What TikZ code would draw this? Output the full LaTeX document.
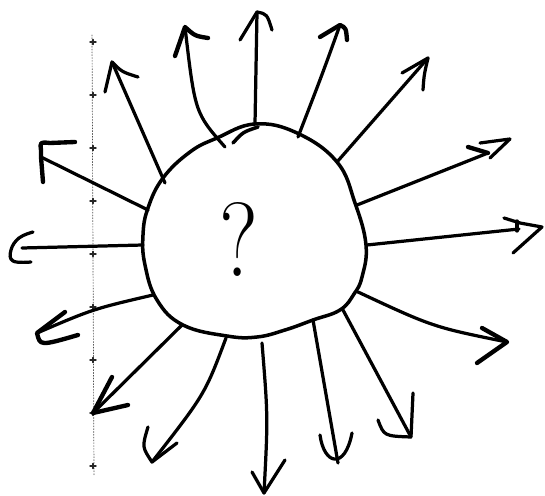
\documentclass[tikz,border=0pt]{standalone}
\usetikzlibrary{calc}

\begin{document}
\begin{tikzpicture}[
    x=0.5mm, y=-0.5mm,
    line cap=round, line join=round,
    blob/.style={draw=black, line width=5pt},
    ray/.style={draw=black, line width=4.6pt},
    barb/.style={draw=black, line width=4.6pt},
    heavybarb/.style={barb, line width=6.2pt},
    guide/.style={draw=black!70, line width=1pt, dash pattern=on 1.5pt off 2.5pt},
    tick/.style={draw=black!85, line width=2pt},
    query/.style={inner sep=0pt, font=\fontsize{150}{150}\selectfont}
]
\useasboundingbox (0,0) rectangle (545,496);

%% Dotted guide line on the left, with its ticks
\draw[guide] (92,35) -- (94,475);
\foreach \y in {42,95,...,466}
    \draw[tick] (90,\y) -- (96,\y) (93,\y-2.5) -- (93,\y+2.5);

%% The blob and the question mark inside it
\draw[blob] plot[smooth cycle, tension=0.7] coordinates {
    (255,124) (297,133) (337,162) (355,203) (366,245) (362,277) (354,294)
    (340,310) (313,320) (285,330) (257,337) (227,336) (183,325) (157,300)
    (145,265) (143,235) (148,208) (163,178) (190,152) (217,138)};
\draw[blob] (233,143) .. controls (243,132) .. (258,127);
\node[query] (query) at (239,239) {\scalebox{0.85}[1]{?}};

%% Roots on the blob and tips of the sixteen rays
\coordinate (root-n)   at (255,124);  \coordinate (tip-n)   at (257,12);
\coordinate (root-nne) at (298,137);  \coordinate (tip-nne) at (340,25);
\coordinate (root-ne)  at (337,162);  \coordinate (tip-ne)  at (428,58);
\coordinate (root-ene) at (357,205);  \coordinate (tip-ene) at (488,153);
\coordinate (root-e)   at (367,245);  \coordinate (tip-e)   at (519,229);
\coordinate (root-ese) at (358,292);  \coordinate (tip-ese) at (507,342);
\coordinate (root-se)  at (343,310);  \coordinate (tip-se)  at (411,437);
\coordinate (root-sse) at (313,320);  \coordinate (tip-sse) at (338,463);
\coordinate (root-s)   at (262,343);  \coordinate (tip-s)   at (264,493);
\coordinate (root-ssw) at (226,338);  \coordinate (tip-ssw) at (152,462);
\coordinate (root-sw)  at (182,325);  \coordinate (tip-sw)  at (93,413);
\coordinate (root-wsw) at (153,295);  \coordinate (tip-wsw) at (37,333);
\coordinate (root-w)   at (143,245);  \coordinate (tip-w)   at (22,248);
\coordinate (root-wnw) at (148,210);  \coordinate (tip-wnw) at (41,157);
\coordinate (root-nw)  at (165,183);  \coordinate (tip-nw)  at (112,62);
\coordinate (root-nnw) at (225,147);  \coordinate (tip-nnw) at (185,27);

%% Shafts
\draw[ray] (root-n)   -- (tip-n);
\draw[ray] (root-nne) .. controls (322,75) .. (tip-nne);
\draw[ray] (root-ne)  -- (tip-ne);
\draw[ray] (root-ene) -- (tip-ene);
\draw[ray] (root-e)   -- (tip-e);
\draw[ray] (root-ese) .. controls (433,327) .. (tip-ese);
\draw[ray] (root-se)  -- (tip-se);
\draw[ray] (root-sse) -- (tip-sse);
\draw[ray] (root-s)   .. controls (268,417) .. (tip-s);
\draw[ray] (root-ssw) .. controls (205,394) .. (tip-ssw);
\draw[ray] (root-sw)  -- (tip-sw);
\draw[ray] (root-wsw) .. controls (93,309) .. (tip-wsw);
\draw[ray] (root-w)   -- (tip-w);
\draw[ray] (root-wnw) -- (tip-wnw);
\draw[ray] (root-nw)  -- (tip-nw);
\draw[ray] (root-nnw) .. controls (195,113) .. (tip-nnw);

%% Hand-drawn heads
\draw[barb] (240,40) -- (tip-n) .. controls (267,14) .. (272,30);
\draw[heavybarb] (320,37) -- (tip-nne) .. controls (346,28) .. (347,40);
\draw[barb] (402,73) -- (tip-ne) .. controls (424,75) .. (423,90);
\draw[heavybarb] (468,147) -- (tip-ene);
\draw[barb] (480,143) -- (510,139) -- (490,158);
\draw[barb] (504,218) -- (520,223) -- (542,227) -- (513,253);
\draw[barb] (517,221) -- (517,231);
\draw[heavybarb] (482,328) -- (tip-ese) -- (477,363);
\draw[barb] (378,420) .. controls (384,436) .. (tip-se) -- (413,393);
\draw[barb] (320,435) .. controls (324,465) and (345,470) .. (352,433);
\draw[barb] (252,472) .. controls (258,482) .. (tip-s) -- (285,460);
\draw[barb] (148,427) .. controls (142,447) .. (tip-ssw) -- (177,443);
\draw[heavybarb] (112,377) -- (tip-sw) -- (128,405);
\draw[heavybarb] (65,312) -- (tip-wsw) .. controls (40,346) .. (78,335);
\draw[barb] plot[smooth, tension=0.7] coordinates {
    (33,232) (19,238) (11,250) (13,261) (31,262)};
\draw[heavybarb] (43,182) -- (tip-wnw) -- (41,150) .. controls (40,142) .. (50,143) -- (75,142);
\draw[barb] (105,92) -- (tip-nw) .. controls (122,72) .. (138,77);
\draw[heavybarb] (175,56) -- (tip-nnw) .. controls (195,36) .. (208,38);

\end{tikzpicture}
\end{document}
